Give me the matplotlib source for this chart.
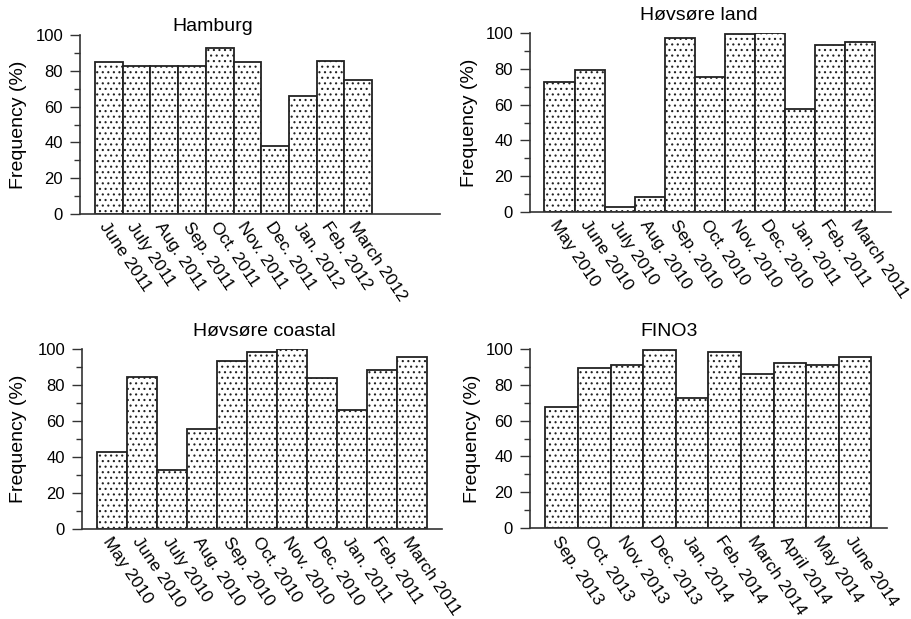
import matplotlib
matplotlib.use("Agg")
import matplotlib.pyplot as plt
from matplotlib.ticker import MultipleLocator

plt.rcParams['font.family'] = ['Liberation Sans', 'DejaVu Sans']
plt.rcParams['hatch.color'] = '#333333'
plt.rcParams['hatch.linewidth'] = 0.8

# Data
hamburg_labels = ["June 2011", "July 2011", "Aug. 2011", "Sep. 2011", "Oct. 2011",
                  "Nov. 2011", "Dec. 2011", "Jan. 2012", "Feb. 2012", "March 2012"]
hamburg_values = [85.1, 82.7, 82.7, 82.7, 92.9, 84.7, 38.2, 65.7, 85.3, 74.9]

land_labels = ["May 2010", "June 2010", "July 2010", "Aug. 2010", "Sep. 2010", "Oct. 2010",
               "Nov. 2010", "Dec. 2010", "Jan. 2011", "Feb. 2011", "March 2011"]
land_values = [72.4, 79.1, 2.8, 8.4, 97.0, 75.4, 99.4, 100.0, 57.8, 93.3, 95.1]

coastal_labels = land_labels
coastal_values = [42.9, 84.2, 32.7, 55.3, 93.5, 98.1, 100.0, 83.9, 66.2, 88.3, 95.4]

fino_labels = ["Sep. 2013", "Oct. 2013", "Nov. 2013", "Dec. 2013", "Jan. 2014",
               "Feb. 2014", "March 2014", "April 2014", "May 2014", "June 2014"]
fino_values = [67.8, 89.6, 91.1, 99.3, 72.8, 98.5, 86.2, 92.4, 91.1, 95.3]

W, H = 912, 619
fig = plt.figure(figsize=(W / 100, H / 100), dpi=100)


def px_axes(left, right, top, bottom):
    return fig.add_axes([left / W, 1 - bottom / H, (right - left) / W, (bottom - top) / H])


panels = [
    # labels, values, (l, r, t, b), xlim, title, (title x, title baseline y), ylabel x
    (hamburg_labels, hamburg_values, (80, 440, 35, 214), (-1.04, 11.95), "Hamburg", (213, 31), -0.172),
    (land_labels, land_values, (530, 891, 33, 212), (-0.98, 11.02), "Høvsøre land", (699, 20), -0.168),
    (coastal_labels, coastal_values, (82, 442, 349, 529), (-1.0, 11.0), "Høvsøre coastal", (264, 336), -0.175),
    (fino_labels, fino_values, (530, 887, 349, 528), (-0.97, 9.98), "FINO3", (669, 336), -0.162),
]

for labels, values, box, xlim, title, tpos, ylx in panels:
    ax = px_axes(*box)
    x = list(range(len(values)))
    ax.bar(x, values, width=1.0, color='white', edgecolor='#222222',
           linewidth=1.3, hatch='...')
    ax.set_xlim(*xlim)
    ax.set_ylim(0, 100)
    ax.spines['top'].set_visible(False)
    ax.spines['right'].set_visible(False)
    for s in ('left', 'bottom'):
        ax.spines[s].set_linewidth(1.2)
        ax.spines[s].set_color('#333333')
    ax.yaxis.set_major_locator(MultipleLocator(20))
    ax.yaxis.set_minor_locator(MultipleLocator(10))
    ax.tick_params(axis='y', which='major', length=7.2, width=1.0, color='#333333',
                   labelsize=12, pad=5)
    ax.tick_params(axis='y', which='minor', length=4.3, width=1.0, color='#333333')
    ax.set_xticks(x)
    ax.set_xticklabels(labels, rotation=-56, ha='left', va='top',
                       rotation_mode='anchor', fontsize=12.5)
    ax.tick_params(axis='x', length=0, pad=4)
    ax.set_ylabel("Frequency (%)", fontsize=14, va='center')
    ax.yaxis.set_label_coords(ylx, 0.5)
    fig.text(tpos[0] / W, 1 - tpos[1] / H, title, ha='center', va='baseline', fontsize=14)

fig.savefig("out.png", dpi=100)
